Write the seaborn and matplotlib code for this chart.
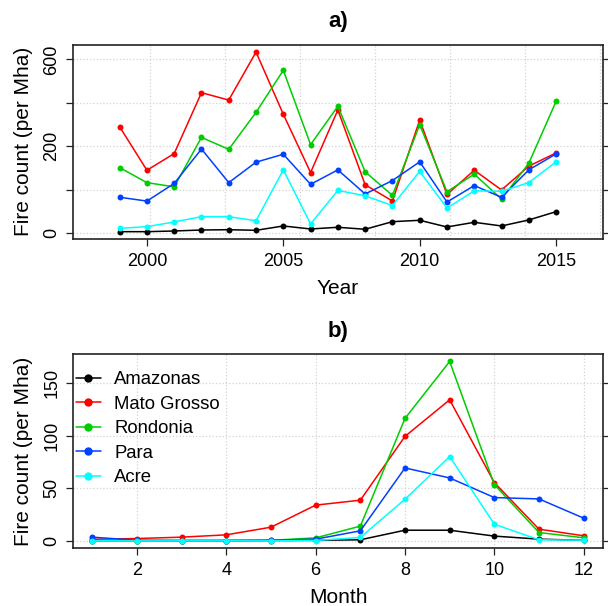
import numpy as np
import pandas as pd
import matplotlib
matplotlib.use("Agg")
import matplotlib.pyplot as plt
from matplotlib.lines import Line2D
import seaborn as sns

# ---------------- data ----------------
states = ["Amazonas", "Mato Grosso", "Rondonia", "Para", "Acre"]
colors = ["#000000", "#FF0000", "#00CD00", "#0040FF", "#00FFFF"]

years = list(range(1999, 2016))
amazonas_y = [2.1, 2.1, 3.2, 4.8, 5.3, 4.3, 11.5, 6.5, 9.3, 6.0, 18.9, 21.3, 9.8, 17.8, 11.5, 21.9, 37.1]
matogrosso_y = [267, 130, 177, 413, 378, 648, 316, 124, 334, 94, 58, 293, 72, 130, 82, 141, 179]
rondonia_y = [137, 99, 89, 229, 190, 324, 533, 205, 350, 126, 70, 275, 78, 120, 62, 149, 372]
para_y = [66, 58, 97, 191, 99, 152, 175, 95, 131, 73, 104, 153, 56, 92, 66, 131, 176]
acre_y = [7.6, 10.3, 18.4, 27.8, 27.8, 20.6, 131, 14.9, 81, 69, 49, 127, 44, 80, 79, 99, 153]

months = list(range(1, 13))
amazonas_m = [0.2, 0.2, 0.2, 0.2, 0.3, 0.5, 1.0, 10.1, 10.1, 4.5, 1.6, 0.5]
matogrosso_m = [1.5, 2.2, 3.5, 5.7, 13, 34, 38.7, 99.5, 134.3, 55.4, 11.1, 4.8]
rondonia_m = [0.2, 0.2, 0.2, 0.3, 0.5, 2.8, 14, 116.6, 170.8, 53.5, 7.9, 2.9]
para_m = [3.5, 0.5, 0.3, 0.3, 0.5, 1.6, 9.5, 69.4, 59.9, 41.2, 39.9, 21.6]
acre_m = [0.0, 0.0, 0.0, 0.0, 0.0, 0.3, 3.2, 39.6, 80.2, 15.8, 1.0, 0.6]

year_ticks = [2000, 2005, 2010, 2015]
month_ticks = [2, 4, 6, 8, 10, 12]
a_ylabels = ["0", "", "200", "", "600"]
b_yticks = [0, 50, 100, 150]

yearly = [amazonas_y, matogrosso_y, rondonia_y, para_y, acre_y]
monthly = [amazonas_m, matogrosso_m, rondonia_m, para_m, acre_m]

df_a = pd.DataFrame({
    "Year": np.tile(years, len(states)),
    "Fire": np.concatenate(yearly),
    "State": np.repeat(states, len(years)),
})
df_b = pd.DataFrame({
    "Month": np.tile(months, len(states)),
    "Fire": np.concatenate(monthly),
    "State": np.repeat(states, len(months)),
})

# ---------------- style ----------------
sns.set_style("white")
plt.rcParams["font.family"] = ["Liberation Sans", "DejaVu Sans"]
plt.rcParams["axes.edgecolor"] = "#222222"
plt.rcParams["axes.linewidth"] = 1.2
for key in ("text.color", "axes.labelcolor", "xtick.color", "ytick.color"):
    plt.rcParams[key] = "black"

palette = dict(zip(states, colors))

fig = plt.figure(figsize=(6.08, 6.06), dpi=100)
ax_a = fig.add_axes([0.1196, 0.6056, 0.8722, 0.3206])
ax_b = fig.add_axes([0.1196, 0.0957, 0.8727, 0.3201])


def fwd(v):
    return np.log(np.maximum(np.asarray(v, dtype=float) + 200.0, 1e-9))


def inv(t):
    return np.exp(t) - 200.0


line_kw = dict(marker="o", markersize=4.3, markeredgewidth=0, linewidth=1.1,
               errorbar=None, legend=False)

# ---------------- panel a ----------------
ax_a.set_yscale("function", functions=(fwd, inv))
sns.lineplot(data=df_a, x="Year", y="Fire", hue="State", hue_order=states,
             palette=palette, ax=ax_a, zorder=3, **line_kw)
ax_a.set_xlim(1997.28, 2016.72)
ax_a.set_ylim(-9.4, 699)
t0, t2, t4 = fwd(0), fwd(200), fwd(600)
a_yticks = [0, float(inv((t0 + t2) / 2)), 200, float(inv((t2 + t4) / 2)), 600]
ax_a.set_yticks(a_yticks)
ax_a.set_yticklabels(a_ylabels)
ax_a.set_xticks(year_ticks)
ax_a.set_xticklabels([str(y) for y in year_ticks])
ax_a.minorticks_off()
for yv in a_yticks:
    ax_a.axhline(yv, color="#D3D3D3", linestyle=":", linewidth=0.9, zorder=1)
for xv in np.linspace(2000.1, 2016.6, 7):
    ax_a.axvline(xv, color="#D3D3D3", linestyle=":", linewidth=0.9, zorder=1)
ax_a.set_xlabel("Year", fontsize=15)
ax_a.set_ylabel("Fire count (per Mha)", fontsize=15)

# ---------------- panel b ----------------
sns.lineplot(data=df_b, x="Month", y="Fire", hue="State", hue_order=states,
             palette=palette, ax=ax_b, zorder=3, **line_kw)
ax_b.set_xlim(0.56, 12.44)
ax_b.set_ylim(-6.84, 177.9)
ax_b.set_xticks(month_ticks)
ax_b.set_xticklabels([str(m) for m in month_ticks])
ax_b.set_yticks(b_yticks)
ax_b.set_yticklabels([str(v) for v in b_yticks])
for yv in b_yticks:
    ax_b.axhline(yv, color="#D3D3D3", linestyle=":", linewidth=0.9, zorder=1)
for xv in month_ticks:
    ax_b.axvline(xv, color="#D3D3D3", linestyle=":", linewidth=0.9, zorder=1)
ax_b.set_xlabel("Month", fontsize=15)
ax_b.set_ylabel("Fire count (per Mha)", fontsize=15)

handles = [Line2D([0], [0], color=c, marker="o", markersize=6, markeredgewidth=0,
                  linewidth=1.1) for c in colors]
ax_b.legend(handles, states, loc="upper left", bbox_to_anchor=(0.006, 0.91),
            frameon=False, fontsize=13.3, handlelength=1.35, handletextpad=0.72,
            labelspacing=0.40, borderaxespad=0.0, borderpad=0.0)

# ---------------- common axis styling ----------------
for ax in (ax_a, ax_b):
    for s in ax.spines.values():
        s.set_visible(True)
        s.set_color("#222222")
        s.set_linewidth(1.2)
    ax.tick_params(axis="both", which="major", direction="out", length=5,
                   width=0.9, color="#222222", labelcolor="black", labelsize=13,
                   pad=5, left=True, right=True, bottom=True, top=False,
                   labelright=False, labeltop=False)
    ax.tick_params(axis="y", labelrotation=90, pad=4)
    for lab in ax.get_yticklabels():
        lab.set_va("center")
    ax.yaxis.set_label_coords(-0.092, 0.5)
    ax.xaxis.set_label_coords(0.5, -0.255)
    ax.xaxis.label.set_va("center")
    ax.yaxis.label.set_va("center")

fig.text(337.9 / 608, 1 - 22 / 606, "a)", ha="center", va="center",
         fontsize=16, fontweight="bold")
fig.text(337.9 / 608, 1 - 331 / 606, "b)", ha="center", va="center",
         fontsize=16, fontweight="bold")

fig.savefig("out.png", dpi=100)
